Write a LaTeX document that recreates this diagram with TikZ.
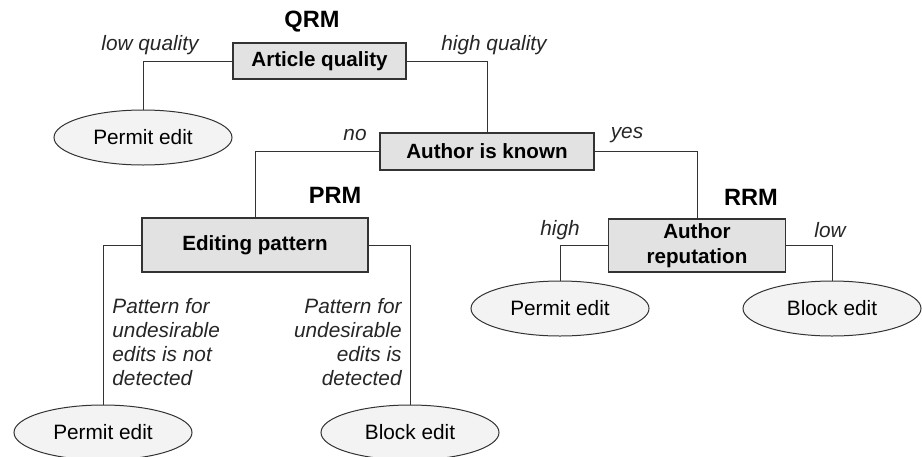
\documentclass[tikz,border=0pt]{standalone}
\usepackage{fontspec}
\setmainfont{Liberation Sans}
\usetikzlibrary{shapes.geometric}
\definecolor{boxgrey}{HTML}{E2E2E2}
\definecolor{leafgrey}{HTML}{F3F3F3}
\definecolor{linegrey}{HTML}{333333}

\begin{document}
\begin{tikzpicture}[x=0.5pt,y=-0.5pt]
  \tikzset{DecisionStyle/.style = {
    shape         = rectangle,
    draw          = linegrey,
    fill          = boxgrey,
    line width    = 0.6pt,
    text          = black,
    inner sep     = 0pt,
    align         = center,
    font          = \fontsize{10.3}{12.5}\selectfont\bfseries
    }
  }
  \tikzset{LeafStyle/.style = {
    shape         = ellipse,
    draw          = linegrey,
    fill          = leafgrey,
    line width    = 0.5pt,
    text          = black,
    inner sep     = 0pt,
    minimum width = 89pt,
    minimum height= 27.5pt,
    font          = \fontsize{10.4}{12}\selectfont
    }
  }
  \tikzset{BranchStyle/.style = {
    draw          = linegrey,
    line width    = 0.5pt
    }
  }
  \tikzset{BranchLabelStyle/.style = {
    text          = black!85,
    inner sep     = 0pt,
    font          = \fontsize{10.4}{12}\selectfont\itshape
    }
  }
  \tikzset{ModelStyle/.style = {
    text          = black,
    inner sep     = 0pt,
    font          = \fontsize{11.8}{13}\selectfont\bfseries
    }
  }

  \useasboundingbox (0,0) rectangle (922,456);

  % decision boxes
  \node[DecisionStyle, minimum width=86.5pt, minimum height=18pt](AQ) at (319.5, 61) {Article quality};
  \node[DecisionStyle, minimum width=107pt, minimum height=18.5pt](AK) at (487, 151.5) {Author is known};
  \node[DecisionStyle, minimum width=113pt, minimum height=27pt](EP) at (255, 245) {Editing pattern};
  \node[DecisionStyle, minimum width=88.5pt, minimum height=26.5pt](AR) at (697, 245.5) {Author\\reputation};

  % outcomes
  \node[LeafStyle](PE1) at (143, 137.5) {Permit edit};
  \node[LeafStyle](PE2) at (560, 308.5) {Permit edit};
  \node[LeafStyle](BE2) at (832, 308.5) {Block edit};
  \node[LeafStyle](PE3) at (103, 432.5) {Permit edit};
  \node[LeafStyle](BE3) at (410, 432.5) {Block edit};

  % model names
  \node[ModelStyle](QRM) at (312, 22) {QRM};
  \node[ModelStyle](PRM) at (335, 195) {PRM};
  \node[ModelStyle](RRM) at (751, 197) {RRM};

  % branches
  \draw[BranchStyle] (AQ.west) -| (PE1.north);
  \draw[BranchStyle] (AQ.east) -| (AK.north);
  \draw[BranchStyle] (AK.west) -| (EP.north);
  \draw[BranchStyle] (AK.east) -| (AR.north);
  \draw[BranchStyle] (AR.west) -| (PE2.north);
  \draw[BranchStyle] (AR.east) -| (BE2.north);
  \draw[BranchStyle] (EP.west) -| (PE3.north);
  \draw[BranchStyle] (EP.east) -| (BE3.north);

  % branch labels
  \node[BranchLabelStyle](LQ) at (150, 45) {low quality};
  \node[BranchLabelStyle](HQ) at (494, 45) {high quality};
  \node[BranchLabelStyle](NO) at (355, 135) {no};
  \node[BranchLabelStyle](YES) at (627, 135) {yes};
  \node[BranchLabelStyle](HI) at (560, 230) {high};
  \node[BranchLabelStyle](LO) at (830, 230) {low};
  \node[BranchLabelStyle, anchor=west, align=left](ND) at (112, 342)
    {Pattern for\\undesirable\\edits is not\\detected};
  \node[BranchLabelStyle, anchor=east, align=right](DT) at (402, 342)
    {Pattern for\\undesirable\ \\edits is\\detected\ };

\end{tikzpicture}
\end{document}
